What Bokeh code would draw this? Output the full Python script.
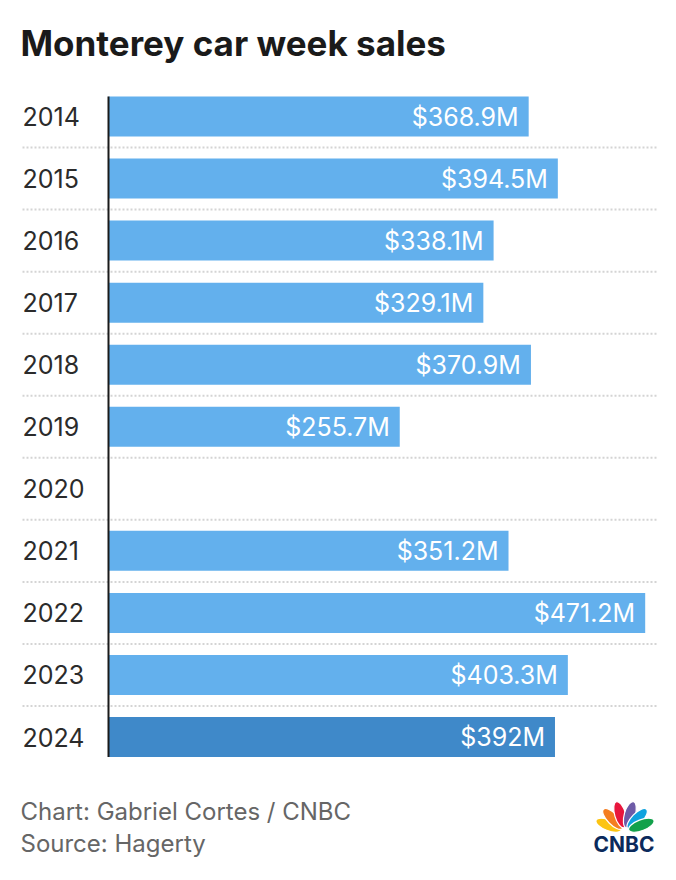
import math
from bokeh.plotting import figure
from bokeh.models import Range1d, ColumnDataSource, Label
from bokeh.embed import file_html
from bokeh.resources import INLINE
from bokeh.core.properties import value

# ---------------- data ----------------
title = "Monterey car week sales"
years = ["2014", "2015", "2016", "2017", "2018", "2019", "2020",
         "2021", "2022", "2023", "2024"]
sales = [368.9, 394.5, 338.1, 329.1, 370.9, 255.7, None,
         351.2, 471.2, 403.3, 392.0]
value_labels = ["$368.9M", "$394.5M", "$338.1M", "$329.1M", "$370.9M",
                "$255.7M", "", "$351.2M", "$471.2M", "$403.3M", "$392M"]
highlight_year = "2024"
credit_lines = ["Chart: Gabriel Cortes / CNBC", "Source: Hagerty"]

# ---------------- layout constants (picture pixels) ----------------
W, H = 676, 880
PX_PER_UNIT = 1.139
ROW = 62.05
ZERO_X = 108.0
ROW0_Y = 116.0
BAR_PX = 40.0
FONT = "Inter"


def dx(px):
    return (px - ZERO_X) / PX_PER_UNIT


def dy(py):
    return (py - ROW0_Y) / ROW


p = figure(width=W, height=H, output_backend="svg", toolbar_location=None,
           x_range=Range1d(dx(0), dx(W)), y_range=Range1d(dy(H), dy(0)),
           x_axis_location=None, y_axis_location=None, min_border=0,
           outline_line_color=None, background_fill_color="white",
           border_fill_color="white")
for r in list(p.center):
    r.visible = False

idx = list(range(len(years)))
all_src = ColumnDataSource(dict(idx=idx, year=years))

bi = [i for i, v in enumerate(sales) if v is not None]
bar_src = ColumnDataSource(dict(
    idx=bi,
    val=[sales[i] for i in bi],
    lbl=[value_labels[i] for i in bi],
    color=["#3f89c9" if years[i] == highlight_year else "#63b0ed" for i in bi],
))

# dotted separators
sep_src = ColumnDataSource(dict(sy=[i + 0.5 for i in idx[:-1]]))
p.segment(x0=dx(22), x1=dx(656), y0="sy", y1="sy", source=sep_src,
          line_color="#d4d4d4", line_width=2, line_dash="2 2")

# bars
bh = BAR_PX / ROW
p.hbar(y="idx", left=0, right="val", height=bh, source=bar_src,
       fill_color="color", line_color=None)

# axis line
p.segment(x0=0, x1=0, y0=-bh / 2, y1=len(years) - 1 + bh / 2,
          line_color="#1a1a1a", line_width=2)

# year labels
p.text(x=dx(22), y="idx", text="year", source=all_src,
       text_font=value(FONT), text_font_size="25px", text_baseline="middle",
       text_align="left", text_color="#2b2b2b")

# value labels
p.text(x="val", y="idx", text="lbl", source=bar_src, x_offset=-10,
       text_font=value(FONT), text_font_size="25px", text_baseline="middle",
       text_align="right", text_color="white")

# title
p.add_layout(Label(x=dx(20), y=dy(42), text=title, text_font=FONT,
                   text_font_size="35px", text_font_style="bold",
                   text_color="#1a1a1a", text_baseline="alphabetic"))

# credits
for k, line in enumerate(credit_lines):
    p.add_layout(Label(x=dx(20), y=dy(811 + 32 * k), text=line, text_font=FONT,
                       text_font_size="24px", text_color="#666666",
                       text_baseline="alphabetic"))

# CNBC logo (peacock)
bx, by = 624.5, 831.0
petals = [(159, "#fcc412"), (134, "#f47d20"), (106, "#e8163c"),
          (74, "#6e5ba7"), (46, "#10a3df"), (21, "#12a14b")]
r_mid = 17.5
for ang, col in petals:
    a = math.radians(ang)
    cx = bx + r_mid * math.cos(a)
    cy = by - r_mid * math.sin(a)
    p.ellipse(x=dx(cx), y=dy(cy), width=27, height=11, width_units="screen",
              height_units="screen", angle=a, fill_color=col,
              line_color="white", line_width=1.2)
p.add_layout(Label(x=dx(623.5), y=dy(844), text="CNBC", text_font=FONT,
                   text_font_size="21px", text_font_style="bold",
                   text_color="#0b2a5c", text_align="center",
                   text_baseline="alphabetic"))

open("out.html", "w").write(file_html(p, INLINE))
